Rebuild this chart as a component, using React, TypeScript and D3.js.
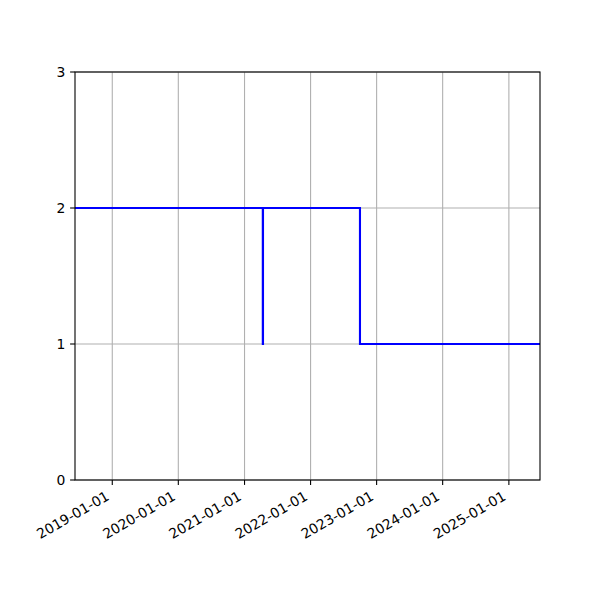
import React from "react";
import * as d3 from "d3";

const dates = ["2018-06-09", "2021-04-12", "2021-04-13", "2022-10-01", "2025-06-22"];
const values = [2, 1, 2, 1, 1];
const xDomain = ["2018-06-09", "2025-06-22"];
const xTickLabels = ["2019-01-01", "2020-01-01", "2021-01-01", "2022-01-01", "2023-01-01", "2024-01-01", "2025-01-01"];
const yTicks = [0, 1, 2, 3];

const W = 600, H = 600;
const L = 75, R = 540, T = 72, B = 480;
const parse = d3.utcParse("%Y-%m-%d");

export default function App() {
  const x = d3.scaleUtc().domain(xDomain.map((d) => parse(d) as Date)).range([L, R]);
  const y = d3.scaleLinear().domain([0, 3]).range([B, T]);
  const pts = dates.map((d, i) => ({ t: parse(d) as Date, v: values[i] }));
  const line = d3
    .line<{ t: Date; v: number }>()
    .x((d) => x(d.t))
    .y((d) => y(d.v))
    .curve(d3.curveStepAfter);
  const font = "DejaVu Sans, sans-serif";
  const fs = 13.9;
  return (
    <svg width={W} height={H} style={{ position: "absolute", left: 0, top: 0, background: "#fff" }}>
      <rect x={0} y={0} width={W} height={H} fill="#fff" />
      {xTickLabels.map((s) => {
        const xx = x(parse(s) as Date);
        return <line key={"gx" + s} x1={xx} x2={xx} y1={T} y2={B} stroke="#b0b0b0" strokeWidth={1.1} />;
      })}
      {yTicks.map((v) => (
        <line key={"gy" + v} x1={L} x2={R} y1={y(v)} y2={y(v)} stroke="#b0b0b0" strokeWidth={1.1} />
      ))}
      <path d={line(pts) || ""} fill="none" stroke="#0000ff" strokeWidth={2.1} />
      <rect x={L} y={T} width={R - L} height={B - T} fill="none" stroke="#000" strokeWidth={1.1} />
      {xTickLabels.map((s) => {
        const xx = x(parse(s) as Date);
        return (
          <g key={"tx" + s}>
            <line x1={xx} x2={xx} y1={B} y2={B + 4.9} stroke="#000" strokeWidth={1.1} />
            <text
              transform={`translate(${xx - 2},${B + 9.7 + 9.3}) rotate(-30)`}
              textAnchor="end"
              fontFamily={font}
              fontSize={fs}
              fill="#000"
            >
              {s}
            </text>
          </g>
        );
      })}
      {yTicks.map((v) => (
        <g key={"ty" + v}>
          <line x1={L - 4.9} x2={L} y1={y(v)} y2={y(v)} stroke="#000" strokeWidth={1.1} />
          <text x={L - 9.7} y={y(v)} dy="0.36em" textAnchor="end" fontFamily={font} fontSize={fs} fill="#000">
            {v}
          </text>
        </g>
      ))}
    </svg>
  );
}
